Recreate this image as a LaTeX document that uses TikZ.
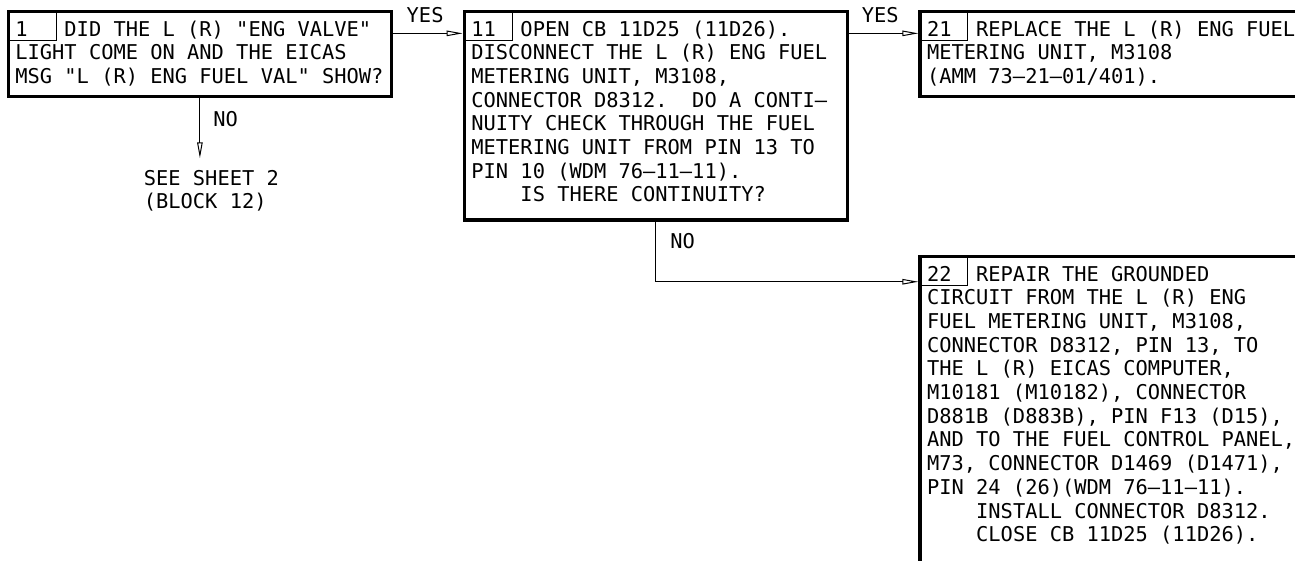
\documentclass[tikz,border=0pt]{standalone}
\usepackage{fontspec}
\usepackage{tikz}
\usetikzlibrary{arrows.meta,positioning}
\newfontfamily\fimono{DejaVu Sans Mono}
% size the mono font so that one character is 12.27pt wide
\newlength\chw
\settowidth\chw{\fimono\fontsize{20}{24}\selectfont M}
\pgfmathsetmacro\fimsize{20*12.27/\chw}
% a space in the chart text is a full-width blank glyph
\begingroup\lccode`\~=`\ \lowercase{\endgroup\def~}{\char"00A0\relax}
\newcommand{\fimfont}{\fimono\fontsize{\fimsize}{23.7}\selectfont
  \hyphenpenalty=10000\catcode`\ =13\relax}
\newcommand{\blkno}[1]{\makebox[49.08pt][l]{#1}}
\newcommand{\ind}{\hspace*{49.08pt}}

\begin{document}
\begin{tikzpicture}[x=1pt,y=-1pt,
  fblk/.style={draw,line width=3.3pt,anchor=north west,font=\fimfont,
               align=left,text width=369pt,inner xsep=7.1pt,inner ysep=8pt,
               text height=16.3pt,text depth=52.5pt},
  ncell/.style={draw,line width=1pt,anchor=north west,inner sep=0pt,outer sep=0pt,
                minimum width=47.7pt,minimum height=28.5pt},
  yn/.style={font=\fimfont,inner sep=0pt},
  flow/.style={-{Triangle[open,length=16pt,width=5.5pt]},line width=1pt},
]
\fill[white] (0,0) rectangle (1295,560);
\useasboundingbox (0,0) rectangle (1295,560);

% blocks
\node[fblk] (b1) at (6.65,10.05) {\blkno{1}DID THE L (R) "ENG VALVE"\\
LIGHT COME ON AND THE EICAS\\
MSG "L (R) ENG FUEL VAL" SHOW?};
\node[fblk,text depth=176pt] (b11) at (462.65,10.05) {\blkno{11}OPEN CB 11D25 (11D26).\\
DISCONNECT THE L (R) ENG FUEL\\
METERING UNIT, M3108,\\
CONNECTOR D8312.  DO A CONTI–\\
NUITY CHECK THROUGH THE FUEL\\
METERING UNIT FROM PIN 13 TO\\
PIN 10 (WDM 76–11–11).\\
\ind{}IS THERE CONTINUITY?};
\node[fblk] (b21) at (918.35,10.05) {\blkno{21}REPLACE THE L (R) ENG FUEL\\
METERING UNIT, M3108\\
(AMM 73–21–01/401).};
\node[fblk,text depth=320pt] (b22) at (918.35,255.05) {\blkno{22}REPAIR THE GROUNDED\\
CIRCUIT FROM THE L (R) ENG\\
FUEL METERING UNIT, M3108,\\
CONNECTOR D8312, PIN 13, TO\\
THE L (R) EICAS COMPUTER,\\
M10181 (M10182), CONNECTOR\\
D881B (D883B), PIN F13 (D15),\\
AND TO THE FUEL CONTROL PANEL,\\
M73, CONNECTOR D1469 (D1471),\\
PIN 24 (26)(WDM 76–11–11).\\
\ind{}INSTALL CONNECTOR D8312.\\
\ind{}CLOSE CB 11D25 (11D26).};
\foreach \b in {b1,b11,b21,b22}
  \node[ncell] (n\b) at ([xshift=1.65pt,yshift=-1.65pt]\b.north west) {};

\node[yn,text width=140pt,align=left,anchor=north west,inner ysep=11.7pt,
      text height=15pt] (sheet) at (143.7,158.3) {SEE SHEET 2\\(BLOCK 12)};

% yes / no paths
\draw[flow] ([yshift=-23.3pt]b1.north east) -- node[yn,pos=0.46,above=10pt] (yes1) {YES}
  ([yshift=-23.3pt]b11.north west);
\draw[flow] ([yshift=-23.3pt]b11.north east) -- node[yn,pos=0.45,above=10pt] (yes2) {YES}
  ([yshift=-23.3pt]b21.north west);
\draw[flow] (b1.south) -- node[yn,pos=0.34,right=13pt] (no1) {NO} (b1.south |- sheet.north);
\draw[flow] (b11.south) |- node[yn,pos=0.16,right=14pt] (no2) {NO}
  ([yshift=-26.7pt]b22.north west);
\end{tikzpicture}
\end{document}
